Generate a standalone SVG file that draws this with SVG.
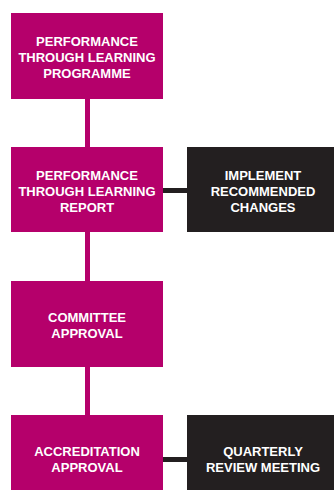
<svg xmlns="http://www.w3.org/2000/svg" width="334" height="490" viewBox="0 0 334 490">
<style>
.m{fill:#B5006B}
.d{fill:#231F20}
.t{fill:#FFFFFF;font-family:"Liberation Sans",Arial,Helvetica,sans-serif;font-weight:bold;font-size:13px;text-anchor:middle}
.vc{stroke:#B5006B;stroke-width:5;fill:none}
.hc{stroke:#231F20;stroke-width:5;fill:none}
</style>
<rect width="334" height="490" fill="#FFFFFF"/>
<g id="connectors">
<line class="vc" x1="87.5" y1="99" x2="87.5" y2="147"/>
<line class="vc" x1="87.5" y1="232" x2="87.5" y2="281"/>
<line class="vc" x1="87.5" y1="367" x2="87.5" y2="415"/>
<line class="hc" x1="163" y1="190.5" x2="187" y2="190.5"/>
<line class="hc" x1="163" y1="459.5" x2="187" y2="459.5"/>
</g>
<g id="n1">
<rect class="m" x="11" y="13" width="152" height="86"/>
<text class="t"><tspan x="87" y="46">PERFORMANCE</tspan><tspan x="87" y="62">THROUGH LEARNING</tspan><tspan x="87" y="77.5">PROGRAMME</tspan></text>
</g>
<g id="n2">
<rect class="m" x="11" y="147" width="152" height="85"/>
<text class="t"><tspan x="87" y="180">PERFORMANCE</tspan><tspan x="87" y="196">THROUGH LEARNING</tspan><tspan x="87" y="212">REPORT</tspan></text>
</g>
<g id="n3">
<rect class="d" x="187" y="147" width="152" height="85"/>
<text class="t"><tspan x="263" y="179.5">IMPLEMENT</tspan><tspan x="263" y="196">RECOMMENDED</tspan><tspan x="263" y="212">CHANGES</tspan></text>
</g>
<g id="n4">
<rect class="m" x="11" y="281" width="152" height="86"/>
<text class="t"><tspan x="87" y="321.7">COMMITTEE</tspan><tspan x="87" y="337.7">APPROVAL</tspan></text>
</g>
<g id="n5">
<rect class="m" x="11" y="415" width="152" height="86"/>
<text class="t"><tspan x="87" y="455.7">ACCREDITATION</tspan><tspan x="87" y="471.7">APPROVAL</tspan></text>
</g>
<g id="n6">
<rect class="d" x="187" y="415" width="152" height="86"/>
<text class="t"><tspan x="263" y="455.7">QUARTERLY</tspan><tspan x="263" y="471.7">REVIEW MEETING</tspan></text>
</g>
</svg>
